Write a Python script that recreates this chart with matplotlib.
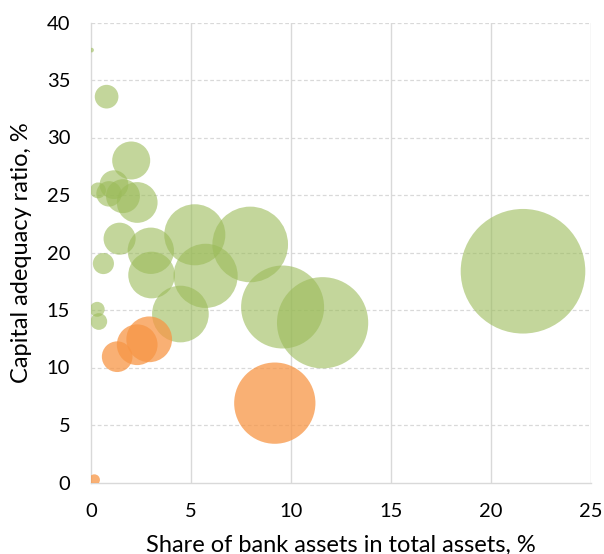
import matplotlib
matplotlib.use("Agg")
import matplotlib.pyplot as plt
import numpy as np

plt.rcParams['font.family'] = ['Lato', 'DejaVu Sans']

# Share of bank assets in total assets, % (also bubble size)
green_share = [0.03, 0.78, 2.01, 0.35, 0.9, 1.15, 1.6, 2.31, 1.43, 2.99, 3.03,
               0.62, 0.31, 0.39, 4.47, 5.19, 5.73, 7.96, 9.58, 11.58, 21.6]
# Capital adequacy ratio, %
green_car = [37.6, 33.55, 28.0, 25.4, 25.1, 25.9, 24.9, 24.35, 21.2, 20.15, 18.04,
             19.04, 15.06, 14.0, 14.65, 21.54, 17.97, 20.7, 15.26, 13.89, 18.37]

orange_share = [0.17, 1.31, 2.31, 2.91, 9.19]
orange_car = [0.23, 10.94, 11.98, 12.45, 6.9]

x_ticks = [0, 5, 10, 15, 20, 25]
y_ticks = [0, 5, 10, 15, 20, 25, 30, 35, 40]

fig = plt.figure(figsize=(6.04, 5.54), dpi=100)
ax = fig.add_axes([91/604, 71.5/554, 500/604, 460/554])

scale = 372.6
ax.scatter(green_share, green_car, s=np.array(green_share) * scale,
           color='#9BBB59', alpha=0.6, linewidths=0, zorder=3)
ax.scatter(orange_share, orange_car, s=np.array(orange_share) * scale,
           color='#F79646', alpha=0.75, linewidths=0, zorder=4)

ax.set_xlim(0, 25)
ax.set_ylim(0, 40)
ax.set_xticks(x_ticks)
ax.set_yticks(y_ticks)
ax.tick_params(axis='both', length=0, labelsize=14.5, colors='#000000')
ax.tick_params(axis='y', pad=15)
ax.tick_params(axis='x', pad=15)

for xv in x_ticks[1:]:
    ax.axvline(xv, color='#D9D9D9', lw=1.0, zorder=1)
for yv in y_ticks[1:]:
    ax.axhline(yv, color='#D9D9D9', lw=0.9, ls=(0, (3, 2)), zorder=1)

for side in ['top', 'right']:
    ax.spines[side].set_visible(False)
for side in ['left', 'bottom']:
    ax.spines[side].set_color('#D9D9D9')
    ax.spines[side].set_linewidth(1.0)

ax.set_xlabel('Share of bank assets in total assets, %', fontsize=17)
ax.set_ylabel('Capital adequacy ratio, %', fontsize=17)
ax.xaxis.set_label_coords(0.5, (554 - 545 - 71.5) / 460, transform=ax.transAxes)
ax.xaxis.label.set_va('center')
ax.yaxis.set_label_coords((22 - 91) / 500, 0.5, transform=ax.transAxes)
ax.yaxis.label.set_va('center')

fig.savefig('out.png', dpi=100)
